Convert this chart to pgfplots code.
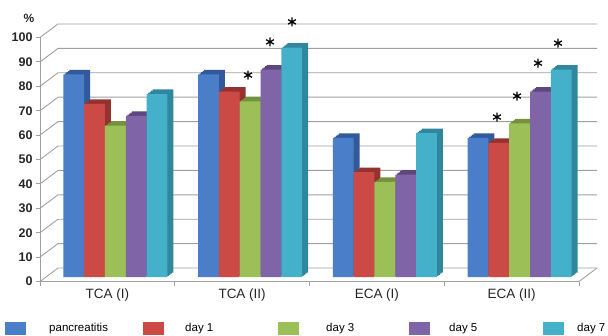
\documentclass[border=0pt]{standalone}
\usepackage{pgfplots}
\pgfplotsset{compat=1.18}
\usepackage{pgfplotstable}
\usepackage{fontspec}
\setmainfont{Liberation Sans}
\definecolor{cB}{HTML}{4A7EC8}
\definecolor{cR}{HTML}{CC4A45}
\definecolor{cG}{HTML}{9CBF58}
\definecolor{cP}{HTML}{8064A8}
\definecolor{cC}{HTML}{45B0CA}
\definecolor{sB}{HTML}{32599A}
\definecolor{sR}{HTML}{953230}
\definecolor{sG}{HTML}{74923C}
\definecolor{sP}{HTML}{5E477E}
\definecolor{sC}{HTML}{30869C}
\definecolor{gridc}{HTML}{A0A0A0}
\pgfplotstableread{
x pan d1 d3 d5 d7
0 83 71 62 66 75
1 83 76 72 85 94
2 57 43 39 42 59
3 57 55 63 76 85
}\data
\pgfplotsset{legsq/.style={legend image code/.code={\fill[##1] (0pt,-6.5pt) rectangle (21pt,6.5pt);}}}
% #1 column, #2 colour, #3 front bar shift (pt)
\newcommand\shadowbars[3]{%
  \addplot[ybar, bar width=20.8pt, bar shift=#3pt+6pt, yshift=9pt, fill=#2, draw=none, forget plot] table[x=x,y=#1]{\data};
  \addplot[ybar, bar width=20.8pt, bar shift=#3pt+4.5pt, yshift=7.875pt, fill=#2, draw=none, forget plot] table[x=x,y=#1]{\data};
  \addplot[ybar, bar width=20.8pt, bar shift=#3pt+3pt, yshift=6.75pt, fill=#2, draw=none, forget plot] table[x=x,y=#1]{\data};
  \addplot[ybar, bar width=20.8pt, bar shift=#3pt+1.5pt, yshift=5.625pt, fill=#2, draw=none, forget plot] table[x=x,y=#1]{\data};
}
\newcommand\frontbars[3]{%
  \addplot[ybar, bar width=20.8pt, bar shift=#3pt, yshift=4.5pt, fill=#2, draw=none, forget plot] table[x=x,y=#1]{\data};
}
\begin{document}
\begin{tikzpicture}
\path[use as bounding box] (0pt,0pt) rectangle (608pt,335pt);
\begin{axis}[
  at={(40pt,53.5pt)}, anchor=south west,
  scale only axis, width=539pt, height=244pt,
  xmin=-0.5, xmax=3.5, ymin=0, ymax=100,
  clip=false,
  axis x line*=bottom, axis y line*=left,
  axis line style={-, draw=gridc, line width=0.9pt},
  every outer x axis line/.append style={-},
  every outer y axis line/.append style={-},
  tick align=outside, major tick length=4pt,
  tick style={draw=gridc, line width=0.9pt},
  ytick={0,10,...,100},
  /pgf/number format/assume math mode=true,
  yticklabel style={font=\fontsize{12.5}{14}\selectfont\bfseries, text=black!85},
  xtick={-0.5,0.5,1.5,2.5,3.5},
  xticklabels={,,,,},
  extra x ticks={0,1,2,3},
  extra x tick labels={TCA (I),TCA (II),ECA (I),ECA (II)},
  extra x tick style={major tick length=0pt, tick style={draw=none},
    xticklabel style={font=\fontsize{13.5}{15}\selectfont, text=black!85, yshift=-4pt}},
  legend columns=5,
  legend style={at={(-0.0649,-0.1926)}, anchor=west, draw=none, fill=none,
    inner sep=0pt, column sep=0pt, font=\fontsize{11.5}{13}\selectfont,
    nodes={inner sep=0pt}},
  legend cell align=left,
]
\pgfplotsinvokeforeach{0,10,...,100}{
  \draw[gridc, line width=0.9pt] (axis cs:-0.5,#1) -- ([shift={(18pt,13.5pt)}]axis cs:-0.5,#1) -- ([shift={(18pt,13.5pt)}]axis cs:3.5,#1);
}
\draw[gridc, line width=0.9pt] (axis cs:3.5,0) -- ([shift={(18pt,13.5pt)}]axis cs:3.5,0);
% 3D depth (side and top faces)
\shadowbars{pan}{sB}{-33.6}
\shadowbars{d1}{sR}{-12.8}
\shadowbars{d3}{sG}{8}
\shadowbars{d5}{sP}{28.8}
\shadowbars{d7}{sC}{49.6}
% front faces
\frontbars{pan}{cB}{-33.6}
\frontbars{d1}{cR}{-12.8}
\frontbars{d3}{cG}{8}
\frontbars{d5}{cP}{28.8}
\frontbars{d7}{cC}{49.6}
% significance stars
\addplot[only marks, mark=asterisk, mark size=4.5pt, line width=1.3pt, black, forget plot] coordinates {
  (1.044,84.6) (1.207,98.2) (1.370,106.4)
  (2.891,67.4) (3.040,76.0) (3.196,89.5) (3.344,97.7)
};
\node[font=\fontsize{12}{14}\selectfont\bfseries, text=black!85] at (axis description cs:-0.0204,1.08) {\%};
\addlegendimage{legsq, fill=cB, draw=none}
\addlegendentry{\makebox[117pt][l]{\hspace*{23pt}pancreatitis}}
\addlegendimage{legsq, fill=cR, draw=none}
\addlegendentry{\makebox[114pt][l]{\hspace*{21pt}day 1}}
\addlegendimage{legsq, fill=cG, draw=none}
\addlegendentry{\makebox[110pt][l]{\hspace*{27pt}day 3}}
\addlegendimage{legsq, fill=cP, draw=none}
\addlegendentry{\makebox[113pt][l]{\hspace*{19pt}day 5}}
\addlegendimage{legsq, fill=cC, draw=none}
\addlegendentry{\makebox[40pt][l]{\hspace*{13pt}day 7}}
\end{axis}
\end{tikzpicture}
\end{document}
